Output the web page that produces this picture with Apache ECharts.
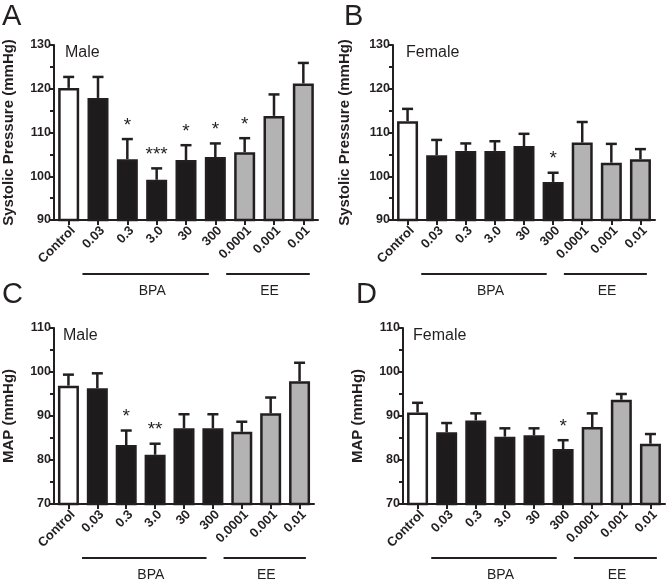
<!DOCTYPE html>
<html>
<head>
<meta charset="utf-8">
<script src="https://cdn.jsdelivr.net/npm/echarts@6/dist/echarts.min.js"></script>
<style>html,body{margin:0;padding:0;background:#fff}#c{width:666px;height:580px}</style>
</head>
<body>
<div id="c"></div>
<script>
// ---- data ----
const categories = ['Control', '0.03', '0.3', '3.0', '30', '300', '0.0001', '0.001', '0.01'];
const groupOf = ['control', 'bpa', 'bpa', 'bpa', 'bpa', 'bpa', 'ee', 'ee', 'ee'];
const groupLabels = ['BPA', 'EE'];

const sysMale = [120.2, 117.9, 103.9, 99.2, 103.7, 104.4, 105.5, 113.8, 121.2];
const sysMaleErr = [2.5, 4.8, 4.6, 2.6, 3.4, 3.1, 3.2, 4.9, 4.7];
const sysMaleSig = ['', '', '*', '***', '*', '*', '*', '', ''];

const sysFemale = [112.6, 104.8, 105.8, 105.8, 106.9, 98.7, 107.7, 103.1, 103.9];
const sysFemaleErr = [2.8, 3.5, 1.7, 2.2, 2.8, 2.1, 4.7, 4.3, 2.3];
const sysFemaleSig = ['', '', '', '', '', '*', '', '', ''];

const mapMale = [96.9, 96.3, 83.4, 81.2, 87.2, 87.2, 86.4, 90.6, 97.9];
const mapMaleErr = [2.5, 3.4, 3.3, 2.5, 3.2, 3.2, 2.3, 3.6, 4.2];
const mapMaleSig = ['', '', '*', '**', '', '', '', '', ''];

const mapFemale = [90.8, 86.3, 89.0, 85.3, 85.6, 82.5, 87.5, 93.7, 83.7];
const mapFemaleErr = [2.2, 2.1, 1.6, 1.9, 1.6, 2.0, 3.1, 1.3, 2.2];
const mapFemaleSig = ['', '', '', '', '', '*', '', '', ''];

const sysTicks = [90, 130, 10];
const mapTicks = [70, 110, 10];

// ---- styling / layout ----
const INK = '#231f20';
const FONT = '"Liberation Sans", Arial, Helvetica, sans-serif';
const fills = { control: '#ffffff', bpa: '#1e1b1c', ee: '#b3b3b3' };

const panels = [
  { letter: 'A', sex: 'Male', vals: sysMale, err: sysMaleErr, sig: sysMaleSig, ticks: sysTicks,
    name: 'Systolic Pressure (mmHg)', grid: { left: 53, top: 45, width: 265, height: 175 }, nameGap: 38,
    letterPos: [2, 17], sexPos: [65, 53] },
  { letter: 'B', sex: 'Female', vals: sysFemale, err: sysFemaleErr, sig: sysFemaleSig, ticks: sysTicks,
    name: 'Systolic Pressure (mmHg)', grid: { left: 393, top: 45, width: 262, height: 175 }, nameGap: 41,
    letterPos: [344, 17], sexPos: [406, 53] },
  { letter: 'C', sex: 'Male', vals: mapMale, err: mapMaleErr, sig: mapMaleSig, ticks: mapTicks,
    name: 'MAP (mmHg)', grid: { left: 51, top: 328, width: 263, height: 176 }, nameGap: 38,
    letterPos: [2, 295], sexPos: [63, 336] },
  { letter: 'D', sex: 'Female', vals: mapFemale, err: mapFemaleErr, sig: mapFemaleSig, ticks: mapTicks,
    name: 'MAP (mmHg)', grid: { left: 403, top: 328, width: 262, height: 176 }, nameGap: 38,
    letterPos: [356, 295], sexPos: [413, 336] }
];

const chart = echarts.init(document.getElementById('c'), null, { renderer: 'canvas' });

const grids = [], xAxes = [], yAxes = [], series = [];
panels.forEach((p, k) => {
  grids.push(Object.assign({ containLabel: false }, p.grid));
  xAxes.push({
    type: 'category', gridIndex: k, data: categories,
    axisLine: { show: true, lineStyle: { color: INK, width: 2 } },
    axisTick: { show: true, alignWithLabel: true, length: 5, lineStyle: { color: INK, width: 2 } },
    axisLabel: { interval: 0, rotate: 45, margin: 4, verticalAlign: 'top', color: INK,
      fontWeight: 'bold', fontSize: 13, fontFamily: FONT },
    splitLine: { show: false }
  });
  yAxes.push({
    type: 'value', gridIndex: k, min: p.ticks[0], max: p.ticks[1], interval: p.ticks[2],
    axisLine: { show: true, lineStyle: { color: INK, width: 2 } },
    axisTick: { show: true, length: 5, lineStyle: { color: INK, width: 2 } },
    minorTick: { show: true, splitNumber: 2, length: 4, lineStyle: { color: INK, width: 2 } },
    splitLine: { show: false },
    axisLabel: { margin: 3, color: INK, fontWeight: 'bold', fontSize: 12.5, fontFamily: FONT },
    name: p.name, nameLocation: 'middle', nameGap: p.nameGap,
    nameTextStyle: { color: INK, fontSize: 15, fontWeight: 'bold', fontFamily: FONT }
  });
  series.push({
    type: 'bar', xAxisIndex: k, yAxisIndex: k, barWidth: 21, z: 2,
    data: p.vals.map((v, i) => ({
      value: v,
      itemStyle: { color: fills[groupOf[i]], borderColor: INK, borderWidth: 2.5 }
    })),
    silent: true
  });
  series.push({
    type: 'custom', xAxisIndex: k, yAxisIndex: k, z: 3, silent: true,
    data: p.vals.map((v, i) => [i, v, p.err[i]]),
    renderItem: function (params, api) {
      const i = api.value(0), v = api.value(1), e = api.value(2);
      const base = api.coord([i, v]);
      const top = api.coord([i, v + e]);
      const children = [
        { type: 'line', shape: { x1: base[0], y1: base[1], x2: top[0], y2: top[1] },
          style: { stroke: INK, lineWidth: 2.5 } },
        { type: 'line', shape: { x1: top[0] - 5.5, y1: top[1], x2: top[0] + 5.5, y2: top[1] },
          style: { stroke: INK, lineWidth: 2.5 } }
      ];
      const s = p.sig[i];
      if (s) {
        children.push({ type: 'text', x: top[0], y: top[1] - 4,
          style: { text: s, fill: INK, font: '19px ' + FONT, align: 'center', verticalAlign: 'bottom' } });
      }
      return { type: 'group', children: children };
    }
  });
});

chart.setOption({
  animation: false,
  backgroundColor: '#ffffff',
  textStyle: { fontFamily: FONT },
  grid: grids, xAxis: xAxes, yAxis: yAxes, series: series
});

// ---- annotations (group bars, panel letters, sex labels) placed from axis coordinates ----
const graphics = [];
panels.forEach((p, k) => {
  const px = i => chart.convertToPixel({ gridIndex: k }, [i, p.ticks[0]]);
  const band = px(1)[0] - px(0)[0];
  const axisY = px(0)[1];
  const groupsDef = [
    { label: groupLabels[0], from: 1, to: 5, off: [-0.53, -0.22] },
    { label: groupLabels[1], from: 6, to: 8, off: [-0.63, 0.22] }
  ];
  groupsDef.forEach(g => {
    const x1 = px(g.from)[0] + g.off[0] * band;
    const x2 = px(g.to)[0] + g.off[1] * band;
    const ly = axisY + 54;
    graphics.push({ type: 'line', shape: { x1: x1, y1: ly, x2: x2, y2: ly }, style: { stroke: INK, lineWidth: 2 } });
    const cx = (px(g.from)[0] + px(g.to)[0]) / 2 - 0.15 * band;
    graphics.push({ type: 'text', x: cx, y: ly + 17,
      style: { text: g.label, fill: INK, font: '14px ' + FONT, align: 'center', verticalAlign: 'middle' } });
  });
  graphics.push({ type: 'text', x: p.letterPos[0], y: p.letterPos[1],
    style: { text: p.letter, fill: INK, font: '29px ' + FONT, align: 'left', verticalAlign: 'middle' } });
  graphics.push({ type: 'text', x: p.sexPos[0], y: p.sexPos[1],
    style: { text: p.sex, fill: INK, font: '16px ' + FONT, align: 'left', verticalAlign: 'middle' } });
});
chart.setOption({ graphic: graphics });
</script>
</body>
</html>
